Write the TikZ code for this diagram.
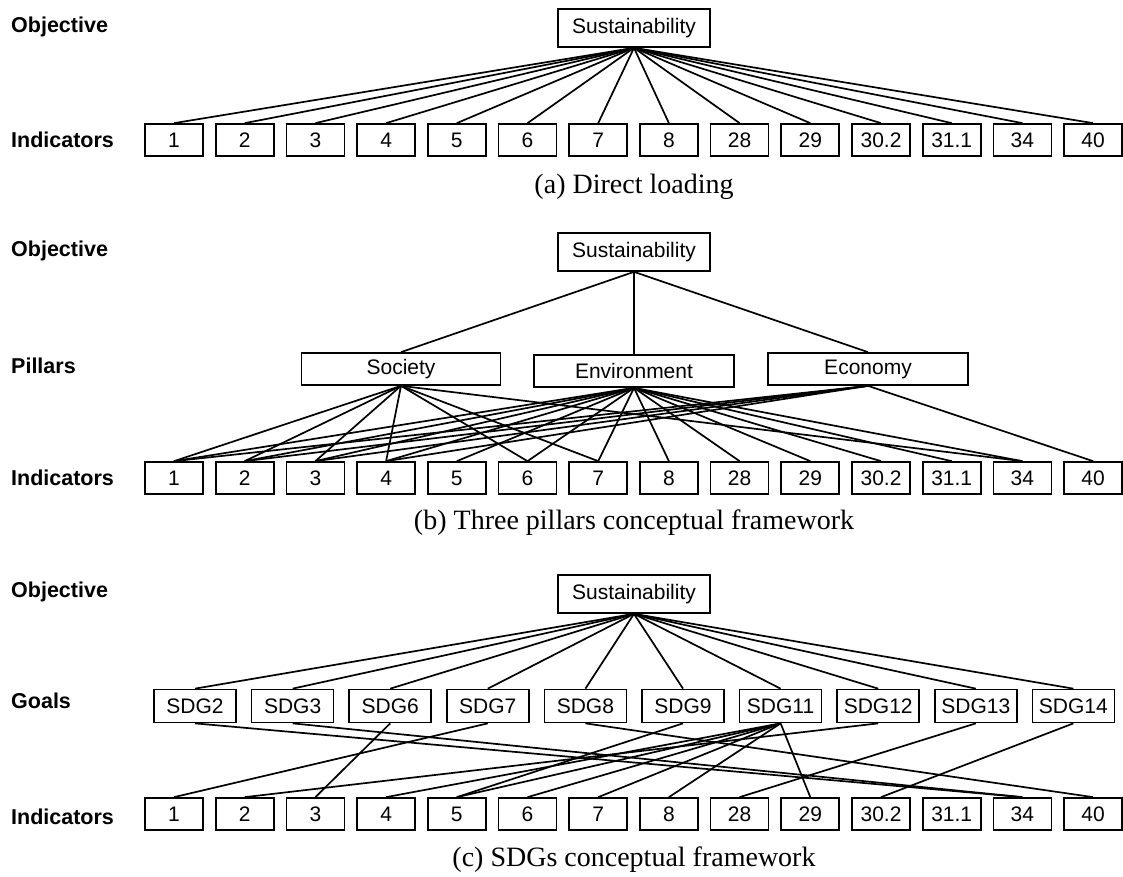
\documentclass[tikz,border=0pt]{standalone}
\usepackage{fontspec}
\setmainfont{Liberation Serif}
\setsansfont{Liberation Sans}
\begin{document}
\begin{tikzpicture}[x=1pt,y=-1pt,
  box/.style={draw, line width=1.7pt, inner sep=0pt, font=\sffamily\fontsize{21}{24}\selectfont},
  ibox/.style={box, minimum width=58pt, minimum height=32pt},
  sbox/.style={box, minimum width=152pt, minimum height=38pt},
  pbox/.style={box, minimum width=200pt, minimum height=32pt},
  gbox/.style={box, minimum width=82pt, minimum height=33pt},
  edge/.style={line width=1.7pt},
  lvl/.style={anchor=west, inner sep=0pt, font=\sffamily\bfseries\fontsize{21.5}{24}\selectfont},
  captxt/.style={inner sep=0pt, font=\rmfamily\fontsize{28}{32}\selectfont}]
\useasboundingbox (0,0) rectangle (1123,877);

% ---------- (a) ----------
\node[lvl] (la1) at (11,27) {Objective};
\node[lvl] (la2) at (11,140) {Indicators};
\node[sbox] (sa) at (634,28) {Sustainability};
\foreach \t [count=\i] in {1,2,3,4,5,6,7,8,28,29,30.2,31.1,34,40}
  \node[ibox] (ia\i) at ({174+70.7*(\i-1)},140) {\t};
\foreach \i in {1,...,14} \draw[edge] (sa.south) -- (ia\i.north);
\node[captxt] (ca) at (634,187) {(a) Direct loading};

% ---------- (b) ----------
\node[lvl] (lb1) at (11,251) {Objective};
\node[lvl] (lb2) at (11,366) {Pillars};
\node[lvl] (lb3) at (11,478) {Indicators};
\node[sbox] (sb) at (634,252) {Sustainability};
\node[pbox, minimum width=199pt] (soc) at (401,369) {Society};
\node[pbox] (env) at (634,371) {Environment};
\node[pbox] (eco) at (868,369) {Economy};
\foreach \t [count=\i] in {1,2,3,4,5,6,7,8,28,29,30.2,31.1,34,40}
  \node[ibox] (ib\i) at ({174+70.7*(\i-1)},478) {\t};
\foreach \p in {soc,env,eco} \draw[edge] (sb.south) -- (\p.north);
\foreach \i in {1,2,3,4,6,7,13} \draw[edge] (soc.south) -- (ib\i.north);
\foreach \i in {1,...,13} \draw[edge] (env.south) -- (ib\i.north);
\foreach \i in {1,2,3,4,14} \draw[edge] (eco.south) -- (ib\i.north);
\node[captxt] (cb) at (634,523) {(b) Three pillars conceptual framework};

% ---------- (c) ----------
\node[lvl] (lc1) at (11,592) {Objective};
\node[lvl] (lc2) at (11,701) {Goals};
\node[lvl] (lc3) at (11,817) {Indicators};
\node[sbox] (sc) at (634,594) {Sustainability};
\foreach \t [count=\i] in {SDG2,SDG3,SDG6,SDG7,SDG8,SDG9,SDG11,SDG12,SDG13,SDG14}
  \node[gbox] (g\i) at ({195+97.6*(\i-1)},706) {\t};
\foreach \t [count=\i] in {1,2,3,4,5,6,7,8,28,29,30.2,31.1,34,40}
  \node[ibox] (ic\i) at ({174+70.7*(\i-1)},814) {\t};
\foreach \i in {1,...,10} \draw[edge] (sc.south) -- (g\i.north);
\foreach \g/\i in {1/13,2/13,3/3,4/1,5/14,6/5,7/4,7/5,7/6,7/7,7/8,7/10,8/2,9/9,10/11}
  \draw[edge] (g\g.south) -- (ic\i.north);
\node[captxt] (cc) at (634,860) {(c) SDGs conceptual framework};
\end{tikzpicture}
\end{document}
